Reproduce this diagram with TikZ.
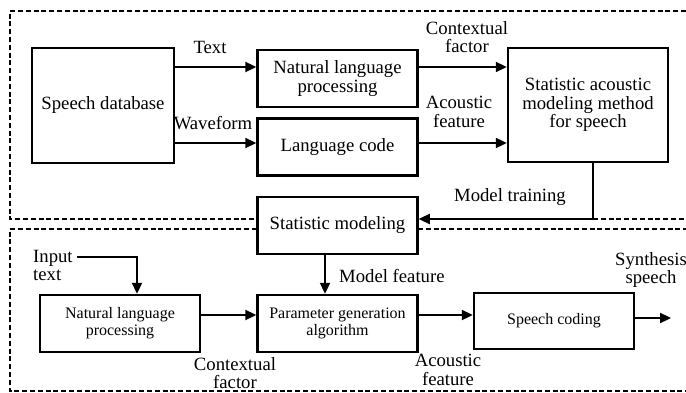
\documentclass[tikz,border=0pt]{standalone}
\usepackage{fontspec}
\setmainfont{Liberation Serif}
\usetikzlibrary{arrows.meta}
\begin{document}
\begin{tikzpicture}[x=1pt,y=-1pt,
  blk/.style={draw, line width=2.5pt, align=center, inner sep=0pt,
    minimum width=160pt, minimum height=57pt,
    font=\fontsize{18.7}{18.5}\selectfont},
  sblk/.style={blk, font=\fontsize{16}{17}\selectfont},
  lbl/.style={align=center, inner sep=0pt, font=\fontsize{18.7}{18.5}\selectfont},
  arr/.style={line width=2.3pt, -{Triangle[length=11pt,width=10pt]}},
  frm/.style={line width=2pt, dash pattern=on 5pt off 2.8pt}]
\useasboundingbox (0,0) rectangle (686,393);
\node[blk, minimum width=142pt, minimum height=115pt] (db) at (103,105.5){Speech database};
\node[blk] (nlp) at (337.5,78.5){Natural language\\processing};
\node[blk] (lc) at (337.5,147){Language code};
\node[blk, minimum height=114pt] (sam) at (588,105){Statistic acoustic\\modeling method\\for speech};
\node[blk] (sm) at (337.5,225.5){Statistic modeling};
\node[sblk] (nlp2) at (120,323.5){Natural language\\processing};
\node[sblk] (pg) at (337.5,323.5){Parameter generation\\algorithm};
\node[sblk, minimum height=56pt] (sc) at (554,321){Speech coding};
\node[lbl] (ltext) at (210,47){Text};
\node[lbl] (lwave) at (213,123){Waveform};
\node[lbl] (lcf) at (467,37){Contextual\\factor};
\node[lbl] (laf) at (459,112){Acoustic\\feature};
\node[lbl] (lmt) at (510,197){Model training};
\node[lbl, align=left, anchor=west] (lin) at (33,265.5){Input\\text};
\node[lbl, anchor=west] (lmf) at (339,276){Model feature};
\node[lbl] (lcf2) at (235,373){Contextual\\factor};
\node[lbl] (laf2) at (448,370){Acoustic\\feature};
\node[lbl] (lss) at (651,270){Synthesis\\speech};
\coordinate (cin) at (77,257);
\coordinate (cout) at (671,318);
\draw[arr] ([yshift=38.5pt]db.east) -- ([yshift=38.5pt]db.east -| nlp.west);
\draw[arr] ([yshift=-37.5pt]db.east) -- ([yshift=-37.5pt]db.east -| lc.west);
\draw[arr] ([yshift=11.5pt]nlp.east) -- ([yshift=11.5pt]nlp.east -| sam.west);
\draw[arr] ([yshift=4pt]lc.east) -- ([yshift=4pt]lc.east -| sam.west);
\draw[arr] ([xshift=5pt]sam.south) |- ([yshift=6.5pt]sm.east);
\draw[arr] ([xshift=-12.5pt]sm.south) -- ([xshift=-12.5pt]sm.south |- pg.north);
\draw[arr] (cin) -| ([xshift=17pt]nlp2.north);
\draw[arr] ([yshift=8.5pt]nlp2.east) -- ([yshift=8.5pt]nlp2.east -| pg.west);
\draw[arr] ([yshift=8.5pt]pg.east) -- ([yshift=8.5pt]pg.east -| sc.west);
\draw[arr] ([yshift=3pt]sc.east) -- (cout);
\draw[frm] (686,11) -- (10,11) -- (10,219) -- (257,219);
\draw[frm] (593,219) -- (686,219);
\draw[frm] (257,229) -- (10,229) -- (10,391) -- (686,391);
\draw[frm] (418,229) -- (686,229);
\end{tikzpicture}
\end{document}
